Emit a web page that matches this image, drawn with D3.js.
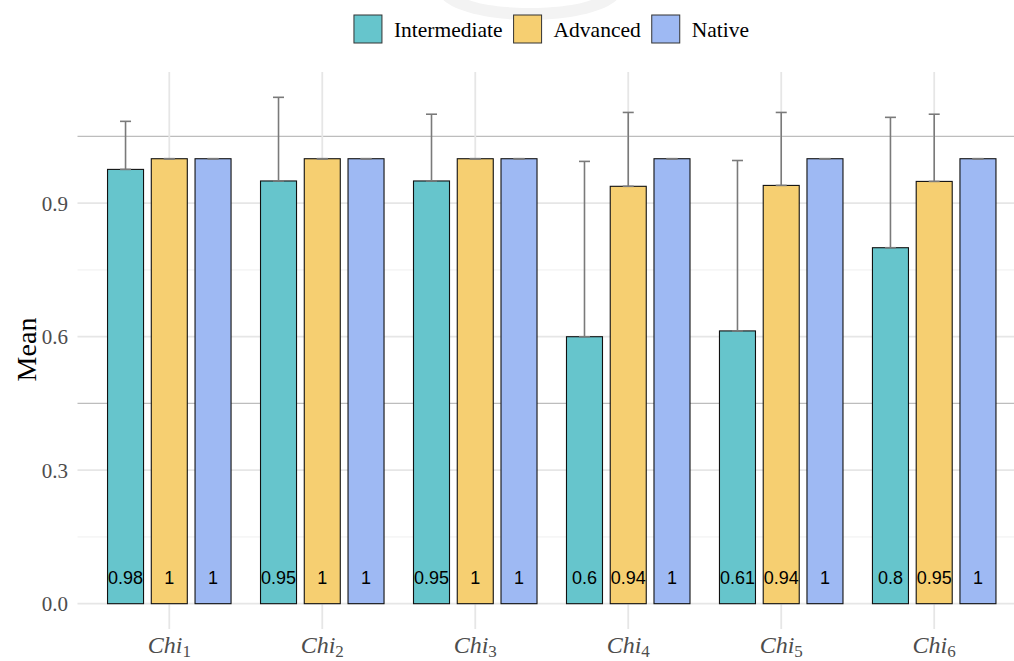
<!DOCTYPE html>
<html>
<head>
<meta charset="utf-8">
<script src="https://cdn.jsdelivr.net/npm/d3@7"></script>
<style>
  html, body { margin: 0; padding: 0; background: #ffffff; }
  svg { display: block; }
</style>
</head>
<body>
<svg id="chart" width="1014" height="661"></svg>
<script>
// ---- data ----
const categories = ["Chi1", "Chi2", "Chi3", "Chi4", "Chi5", "Chi6"];
const categoryBase = ["Chi", "Chi", "Chi", "Chi", "Chi", "Chi"];
const categorySub = ["1", "2", "3", "4", "5", "6"];
const series = ["Intermediate", "Advanced", "Native"];
const seriesColors = ["#66C5CC", "#F6CF71", "#9EB9F3"];
const intermediateMean = [0.976, 0.95, 0.95, 0.6, 0.613, 0.8];
const advancedMean = [1, 1, 1, 0.938, 0.94, 0.949];
const nativeMean = [1, 1, 1, 1, 1, 1];
const intermediateSd = [0.108, 0.188, 0.150, 0.394, 0.383, 0.293];
const advancedSd = [0, 0, 0, 0.166, 0.164, 0.151];
const nativeSd = [0, 0, 0, 0, 0, 0];
const yTicks = [0, 0.3, 0.6, 0.9];
const yMinorTicks = [0.15, 0.45, 0.75, 1.05];
const yTitle = "Mean";

const means = [intermediateMean, advancedMean, nativeMean];
const sds = [intermediateSd, advancedSd, nativeSd];

const rows = [];
categories.forEach((c, i) => {
  series.forEach((s, j) => {
    rows.push({cat: c, ser: s, si: j, mean: means[j][i], sd: sds[j][i]});
  });
});

// ---- layout ----
const svg = d3.select("#chart");
const W = 1014, H = 661;
const panel = {left: 77.5, right: 1026, top: 72, bottom: 629};

const maxTop = d3.max(rows, d => d.mean + d.sd);
const y = d3.scaleLinear()
  .domain([-0.05 * maxTop, 1.05 * maxTop])
  .range([panel.bottom, panel.top]);

const x = d3.scalePoint()
  .domain(categories)
  .range([panel.left, panel.right])
  .padding(0.6);
const step = x.step();
const dodge = 0.286 * step;
const xs = d3.scaleBand()
  .domain(series)
  .range([-1.5 * dodge, 1.5 * dodge])
  .paddingInner(0.177)
  .paddingOuter(0.0885);

// ---- watermark ----
svg.append("path")
  .attr("d", () => {
    const cx = 530, cy = -10;
    const outer = d3.range(0, 361, 4).map(a => [cx + 92 * Math.cos(a * Math.PI / 180), cy + 30 * Math.sin(a * Math.PI / 180)]);
    const inner = d3.range(360, -1, -4).map(a => [cx + 74 * Math.cos(a * Math.PI / 180), cy + 18 * Math.sin(a * Math.PI / 180)]);
    return "M" + outer.join("L") + "Z M" + inner.join("L") + "Z";
  })
  .attr("fill", "#f3f3f3")
  .attr("fill-rule", "evenodd");

// ---- grid ----
const grid = svg.append("g");
grid.selectAll("line.minor")
  .data(yMinorTicks)
  .join("line")
  .attr("x1", panel.left).attr("x2", W)
  .attr("y1", d => y(d)).attr("y2", d => y(d))
  .attr("stroke", (d, i) => (i % 2 === 1) ? "#bdbdbd" : "#efefef")
  .attr("stroke-width", (d, i) => (i % 2 === 1) ? 1.3 : 1);
grid.selectAll("line.major")
  .data(yTicks)
  .join("line")
  .attr("x1", panel.left).attr("x2", W)
  .attr("y1", d => y(d)).attr("y2", d => y(d))
  .attr("stroke", "#e6e6e6")
  .attr("stroke-width", 1.8);
grid.selectAll("line.vmajor")
  .data(categories)
  .join("line")
  .attr("x1", d => x(d)).attr("x2", d => x(d))
  .attr("y1", panel.top).attr("y2", panel.bottom)
  .attr("stroke", "#e6e6e6")
  .attr("stroke-width", 1.8);

// ---- bars ----
svg.append("g").selectAll("rect")
  .data(rows)
  .join("rect")
  .attr("x", d => x(d.cat) + xs(d.ser))
  .attr("width", xs.bandwidth())
  .attr("y", d => y(d.mean))
  .attr("height", d => y(0) - y(d.mean))
  .attr("fill", d => seriesColors[d.si])
  .attr("stroke", "#111")
  .attr("stroke-width", 1.1);

// ---- error bars (upper) ----
const eb = svg.append("g").attr("stroke", "#7a7a7a").attr("stroke-width", 1.6);
const cx = d => x(d.cat) + xs(d.ser) + xs.bandwidth() / 2;
const capHalf = 5.5;
eb.selectAll("line.v").data(rows).join("line")
  .attr("x1", cx).attr("x2", cx)
  .attr("y1", d => y(d.mean)).attr("y2", d => y(d.mean + d.sd));
eb.selectAll("line.top").data(rows).join("line")
  .attr("x1", d => cx(d) - capHalf).attr("x2", d => cx(d) + capHalf)
  .attr("y1", d => y(d.mean + d.sd)).attr("y2", d => y(d.mean + d.sd));
eb.selectAll("line.bot").data(rows).join("line")
  .attr("x1", d => cx(d) - capHalf).attr("x2", d => cx(d) + capHalf)
  .attr("y1", d => y(d.mean)).attr("y2", d => y(d.mean));

// ---- value labels ----
svg.append("g").selectAll("text")
  .data(rows)
  .join("text")
  .attr("x", cx)
  .attr("y", y(0) - 19.5)
  .attr("text-anchor", "middle")
  .attr("font-family", "'Liberation Sans', Arial, sans-serif")
  .attr("font-size", 18)
  .attr("fill", "#000")
  .text(d => String(+d.mean.toFixed(2)));

// ---- y axis labels ----
svg.append("g").selectAll("text")
  .data(yTicks)
  .join("text")
  .attr("x", 68)
  .attr("y", d => y(d))
  .attr("dy", "0.35em")
  .attr("text-anchor", "end")
  .attr("font-family", "'Liberation Serif', 'Times New Roman', serif")
  .attr("font-size", 21)
  .attr("fill", "#4d4d4d")
  .text(d => d3.format(".1f")(d));

svg.append("text")
  .attr("transform", `translate(36, ${(panel.top + panel.bottom) / 2 - 1}) rotate(-90)`)
  .attr("text-anchor", "middle")
  .attr("font-family", "'Liberation Serif', 'Times New Roman', serif")
  .attr("font-size", 28)
  .attr("fill", "#000")
  .text(yTitle);

// ---- x axis labels ----
const xl = svg.append("g").selectAll("text")
  .data(categories)
  .join("text")
  .attr("x", d => x(d))
  .attr("y", 653)
  .attr("text-anchor", "middle")
  .attr("font-family", "'Liberation Serif', 'Times New Roman', serif")
  .attr("fill", "#4d4d4d");
xl.append("tspan")
  .attr("font-size", 24)
  .attr("font-style", "italic")
  .text((d, i) => categoryBase[i]);
xl.append("tspan")
  .attr("font-size", 17)
  .attr("dy", 4)
  .text((d, i) => categorySub[i]);

// ---- legend ----
const legend = svg.append("g");
const keySize = 28, keyGap = 12, itemGap = 11;
let lx = 0;
series.forEach((s, i) => {
  const g = legend.append("g").attr("transform", `translate(${lx},0)`);
  g.append("rect")
    .attr("x", 0).attr("y", 15)
    .attr("width", keySize).attr("height", keySize)
    .attr("fill", seriesColors[i])
    .attr("stroke", "#333")
    .attr("stroke-width", 1);
  const t = g.append("text")
    .attr("x", keySize + keyGap)
    .attr("y", 29)
    .attr("dy", "0.35em")
    .attr("font-family", "'Liberation Serif', 'Times New Roman', serif")
    .attr("font-size", 21.5)
    .attr("fill", "#000")
    .text(s);
  lx += keySize + keyGap + t.node().getComputedTextLength() + itemGap;
});
const legendWidth = lx - itemGap;
legend.attr("transform", `translate(${551.5 - legendWidth / 2},0)`);
</script>
</body>
</html>
